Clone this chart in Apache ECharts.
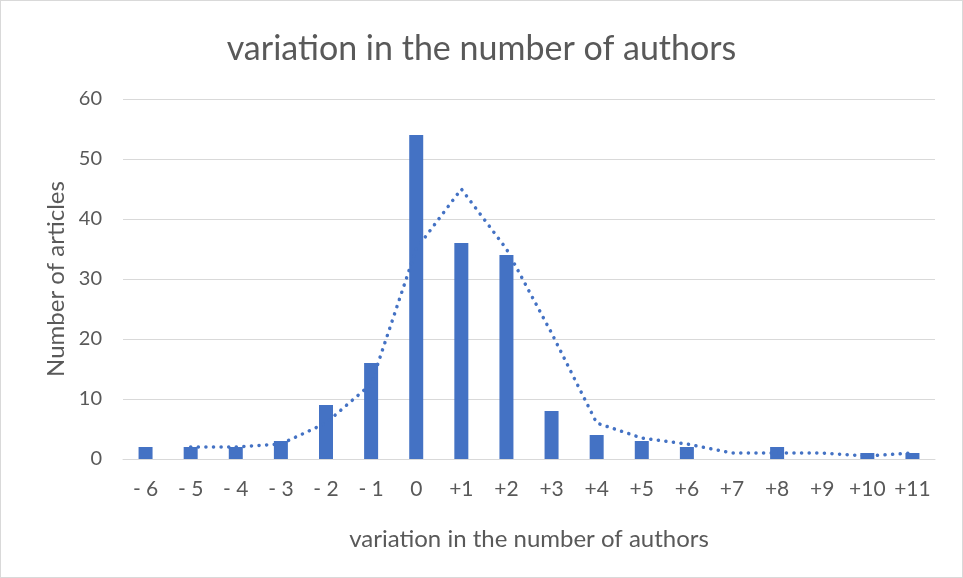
<!DOCTYPE html>
<html>
<head>
<meta charset="utf-8">
<script src="https://cdn.jsdelivr.net/npm/echarts@6/dist/echarts.min.js"></script>
<style>
html,body{margin:0;padding:0;background:#fff;}
#c{width:961px;height:576px;border:1px solid #d9d9d9;}
</style>
</head>
<body>
<div id="c"></div>
<script>
const categories = ['- 6','- 5','- 4','- 3','- 2','- 1','0','+1','+2','+3','+4','+5','+6','+7','+8','+9','+10','+11'];
const articles = [2,2,2,3,9,16,54,36,34,8,4,3,2,0,2,0,1,1];
const trend = [null,2,2,2.5,6,12.5,35,45,35,21,6,3.5,2.5,1,1,1,0.5,1];
const yTicks = [0,10,20,30,40,50,60];

const font = 'Lato, "Noto Sans", sans-serif';
const chart = echarts.init(document.getElementById('c'));
chart.setOption({
  animation:false,
  textStyle:{fontFamily:font},
  title:{text:'variation in the number of authors',left:'center',top:26,
    textStyle:{fontFamily:font,fontSize:34,fontWeight:'normal',color:'#595959'}},
  grid:{left:122,right:27,top:98,bottom:118},
  xAxis:{type:'category',data:categories,
    axisLine:{lineStyle:{color:'#d9d9d9',width:1}},axisTick:{show:false},
    axisLabel:{color:'#595959',fontSize:21,margin:20,interval:0},
    name:'variation in the number of authors',nameLocation:'middle',nameGap:68,
    nameTextStyle:{color:'#595959',fontSize:24}},
  yAxis:{type:'value',min:yTicks[0],max:yTicks[yTicks.length-1],interval:10,
    axisLine:{show:false},axisTick:{show:false},
    splitLine:{lineStyle:{color:'#d9d9d9',width:1}},
    axisLabel:{color:'#595959',fontSize:20,margin:21},
    name:'Number of articles',nameLocation:'middle',nameGap:50,
    nameTextStyle:{color:'#595959',fontSize:24}},
  series:[
    {type:'bar',data:articles,barWidth:14,itemStyle:{color:'#4472C4'}},
    {type:'line',data:trend,symbol:'none',smooth:false,connectNulls:false,
      lineStyle:{color:'#4472C4',width:3.5,type:[0.1,7.5],cap:'round'},z:3}
  ]
});
</script>
</body>
</html>
